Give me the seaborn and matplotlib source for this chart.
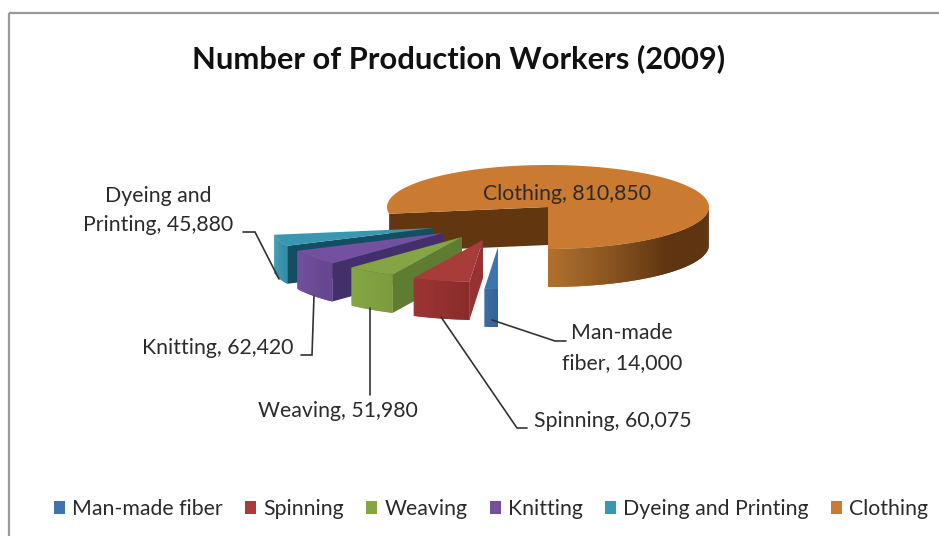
import numpy as np
import matplotlib
matplotlib.use("Agg")
import matplotlib.pyplot as plt
from matplotlib.patches import Polygon, Patch, Rectangle
import seaborn as sns

# --- data ---
categories = ["Man-made fiber", "Spinning", "Weaving", "Knitting", "Dyeing and Printing", "Clothing"]
workers = [14000, 60075, 51980, 62420, 45880, 810850]
title = "Number of Production Workers (2009)"

# --- style ---
top_colors = ["#3F73AC", "#A83C3A", "#85A444", "#7350A0", "#3A97B2", "#CB7A32"]
wall_light = ["#33669E", "#9C3533", "#86A545", "#7350A0", "#3A97B2", "#B0702E"]
wall_dark = ["#2A5A90", "#8A2C2A", "#7C9B3E", "#66468F", "#2F8AA4", "#5E3510"]
cut_colors = ["#3F73AC", "#963332", "#5F7C33", "#432F69", "#134E62", "#62360F"]
explode_px = [(-50, 40), (-65, 33), (-86, 30), (-105, 26), (-115, 21), (0, 0)]
CX, CY, RX, RY, DEPTH = 548.0, 207.0, 161.0, 42.0, 38.0
START = 270.0

sns.set_theme(style="white")
plt.rcParams["font.family"] = ["Lato", "DejaVu Sans"]
fig = plt.figure(figsize=(9.39, 5.36), dpi=100)
ax = fig.add_axes([0, 0, 1, 1])
ax.set_xlim(0, 939)
ax.set_ylim(536, 0)
ax.axis("off")

# frame
ax.add_patch(Rectangle((8.5, 12.5), 960, 560, fill=False, ec="#9A9A9A", lw=1.6, zorder=0))


def mix(c1, c2, t):
    a, b = np.array(matplotlib.colors.to_rgb(c1)), np.array(matplotlib.colors.to_rgb(c2))
    return tuple(a + (b - a) * t)


def point(ang, ox, oy):
    r = np.radians(ang)
    return CX + ox + RX * np.cos(r), CY + oy - RY * np.sin(r)


total = float(sum(workers))
spans = [v / total * 360.0 for v in workers]
ends = START - np.cumsum(spans)
starts = np.r_[START, ends[:-1]]

order = [5, 4, 3, 2, 1, 0]
for z, i in enumerate(order):
    a0, a1 = starts[i], ends[i]     # clockwise from a0 down to a1
    ox, oy = explode_px[i]
    tip = (CX + ox, CY + oy)
    base = 3 + z * 3
    if i == 5:
        # clothing: cut face on the left, outer wall on the right
        pl = point(a0, ox, oy)
        ax.add_patch(Polygon([pl, tip, (tip[0], tip[1] + DEPTH), (pl[0], pl[1] + DEPTH)],
                             fc=cut_colors[i], ec="none", zorder=base))
        angs = np.linspace(-90, 0, 91)
    else:
        # right-hand cut face, then outer wall
        pr = point(a0, ox, oy)
        ax.add_patch(Polygon([tip, pr, (pr[0], pr[1] + DEPTH), (tip[0], tip[1] + DEPTH)],
                             fc=cut_colors[i], ec="none", zorder=base))
        angs = np.linspace(a1, a0, 40)
    n = len(angs)
    for k in range(n - 1):
        p, q = point(angs[k], ox, oy), point(angs[min(k + 2, n - 1)], ox, oy)
        t = k / (n - 2)
        if i == 5:
            t = min(1.0, t * 1.9)
        col = mix(wall_light[i], wall_dark[i], t)
        ax.add_patch(Polygon([p, q, (q[0], q[1] + DEPTH), (p[0], p[1] + DEPTH)],
                             fc=col, ec="none", zorder=base))
    # top face
    angs = np.linspace(a0, a1, 200)
    pts = [tip] + [point(a, ox, oy) for a in angs]
    ax.add_patch(Polygon(pts, fc=top_colors[i], ec="none", zorder=base + 1))

# leader lines
leaders = [
    [(243, 232), (255, 232), (279, 279)],
    [(301, 355), (312, 355), (314, 296)],
    [(370, 395), (370, 308)],
    [(527, 428), (517, 428), (441, 317)],
    [(492, 320), (555, 341), (566, 341)],
]
for pts in leaders:
    xs, ys = zip(*pts)
    ax.plot(xs, ys, color="#333333", lw=1.2, zorder=30, solid_joinstyle="miter")

# labels
fs = 15.3
tc = "#2B2B2B"
ax.text(158, 210.5, f"Dyeing and\nPrinting, {workers[4]:,}", ha="center", va="center", fontsize=fs, color=tc,
        linespacing=1.62, zorder=40)
ax.text(218, 348, f"Knitting, {workers[3]:,}", ha="center", va="center", fontsize=fs, color=tc, zorder=40)
ax.text(338, 411, f"Weaving, {workers[2]:,}", ha="center", va="center", fontsize=fs, color=tc, zorder=40)
ax.text(613, 421, f"Spinning, {workers[1]:,}", ha="center", va="center", fontsize=fs, color=tc, zorder=40)
ax.text(622, 348, f"Man-made\nfiber, {workers[0]:,}", ha="center", va="center", fontsize=fs, color=tc,
        linespacing=1.62, zorder=40)
ax.text(567, 194, f"Clothing, {workers[5]:,}", ha="center", va="center", fontsize=fs, color=tc, zorder=40)
ax.text(459, 59, title, ha="center", va="center", fontsize=22.2, fontweight="bold", color="#111111", zorder=40)

# legend
handles = [Patch(fc=c, ec="none", label=n) for c, n in zip(sns.color_palette(top_colors), categories)]
ax.legend(handles=handles, ncol=6, loc="center", bbox_to_anchor=(491 / 939, 1 - 509 / 536),
          frameon=False, fontsize=fs, handlelength=0.52, handleheight=0.52, handletextpad=0.33,
          columnspacing=1.05, labelcolor=tc, borderpad=0, borderaxespad=0)

fig.savefig("out.png", dpi=100)
